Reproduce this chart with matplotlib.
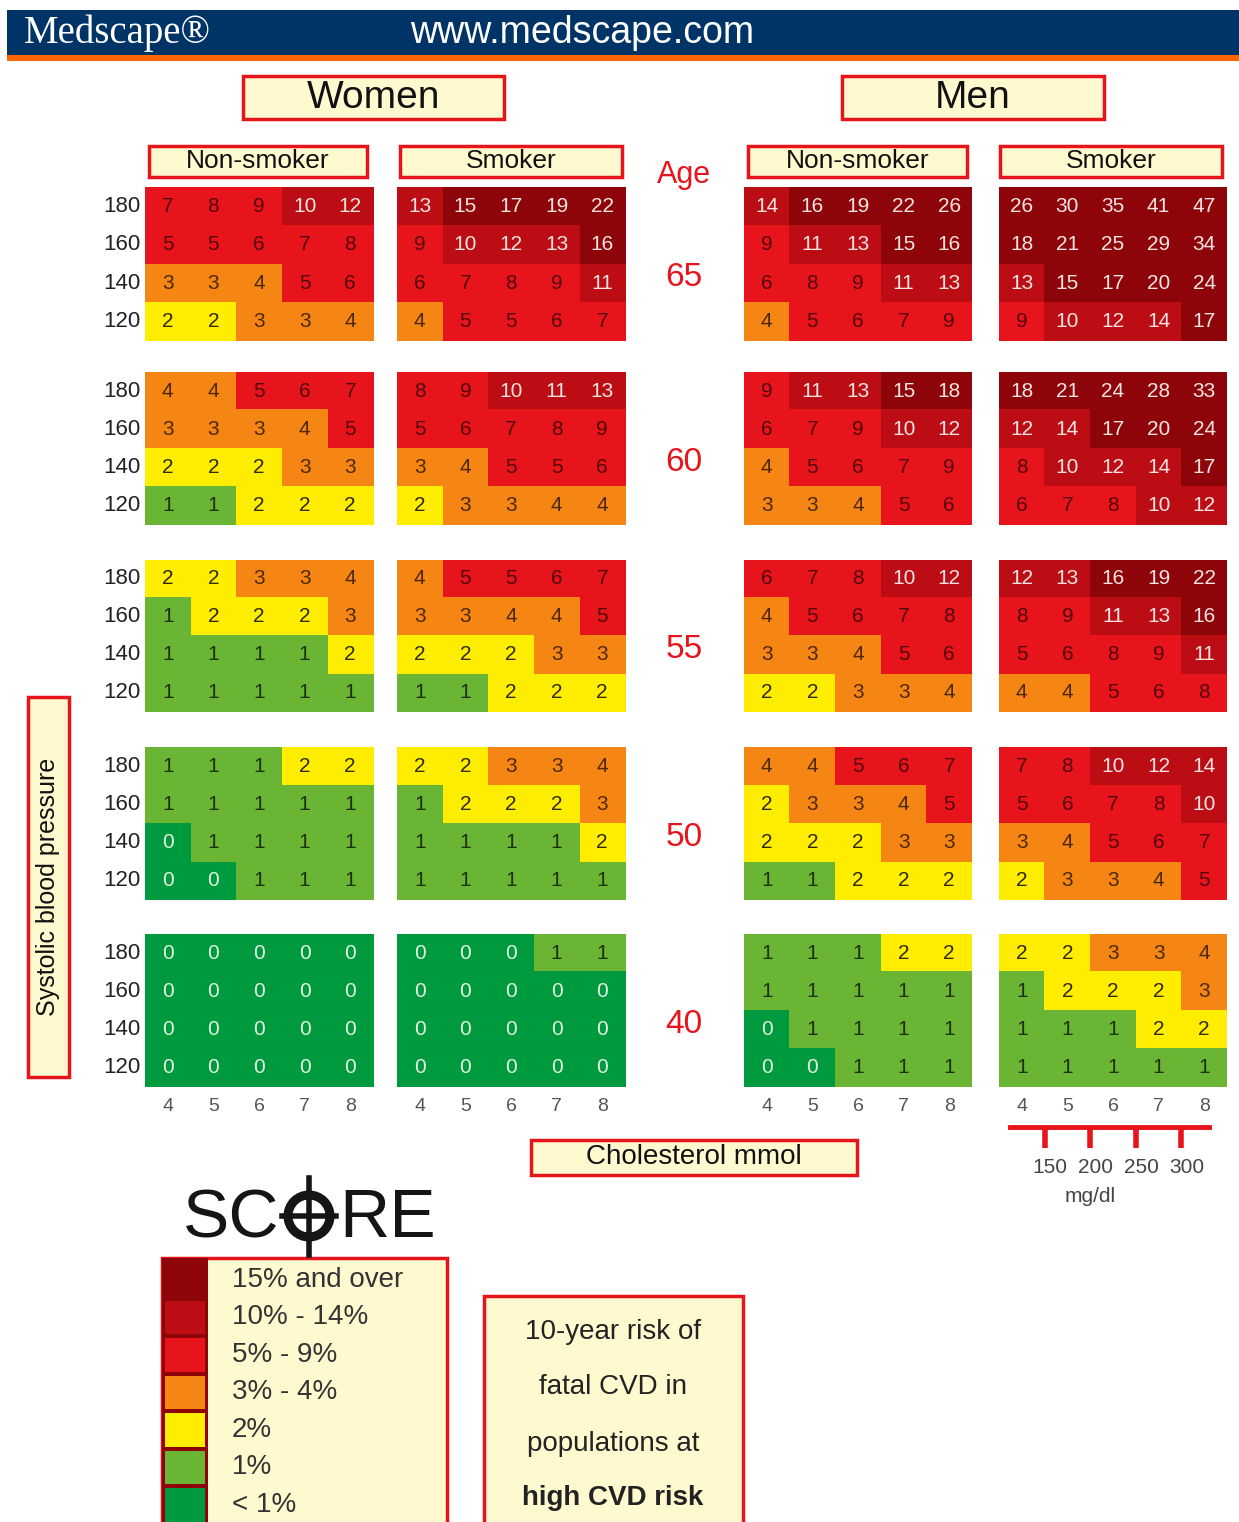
import numpy as np
import matplotlib.pyplot as plt
from matplotlib.colors import ListedColormap, BoundaryNorm
from matplotlib.patches import Rectangle, Circle

plt.rcParams['font.family'] = ['Liberation Sans', 'DejaVu Sans']

W, H = 1239, 1522

# chart data
ages = [65, 60, 55, 50, 40]
sbp = [180, 160, 140, 120]
chol = [4, 5, 6, 7, 8]
chol_mgdl = [150, 200, 250, 300]

women_nonsmoker = [
    [[7, 8, 9, 10, 12], [5, 5, 6, 7, 8], [3, 3, 4, 5, 6], [2, 2, 3, 3, 4]],
    [[4, 4, 5, 6, 7], [3, 3, 3, 4, 5], [2, 2, 2, 3, 3], [1, 1, 2, 2, 2]],
    [[2, 2, 3, 3, 4], [1, 2, 2, 2, 3], [1, 1, 1, 1, 2], [1, 1, 1, 1, 1]],
    [[1, 1, 1, 2, 2], [1, 1, 1, 1, 1], [0, 1, 1, 1, 1], [0, 0, 1, 1, 1]],
    [[0, 0, 0, 0, 0], [0, 0, 0, 0, 0], [0, 0, 0, 0, 0], [0, 0, 0, 0, 0]],
]
women_smoker = [
    [[13, 15, 17, 19, 22], [9, 10, 12, 13, 16], [6, 7, 8, 9, 11], [4, 5, 5, 6, 7]],
    [[8, 9, 10, 11, 13], [5, 6, 7, 8, 9], [3, 4, 5, 5, 6], [2, 3, 3, 4, 4]],
    [[4, 5, 5, 6, 7], [3, 3, 4, 4, 5], [2, 2, 2, 3, 3], [1, 1, 2, 2, 2]],
    [[2, 2, 3, 3, 4], [1, 2, 2, 2, 3], [1, 1, 1, 1, 2], [1, 1, 1, 1, 1]],
    [[0, 0, 0, 1, 1], [0, 0, 0, 0, 0], [0, 0, 0, 0, 0], [0, 0, 0, 0, 0]],
]
men_nonsmoker = [
    [[14, 16, 19, 22, 26], [9, 11, 13, 15, 16], [6, 8, 9, 11, 13], [4, 5, 6, 7, 9]],
    [[9, 11, 13, 15, 18], [6, 7, 9, 10, 12], [4, 5, 6, 7, 9], [3, 3, 4, 5, 6]],
    [[6, 7, 8, 10, 12], [4, 5, 6, 7, 8], [3, 3, 4, 5, 6], [2, 2, 3, 3, 4]],
    [[4, 4, 5, 6, 7], [2, 3, 3, 4, 5], [2, 2, 2, 3, 3], [1, 1, 2, 2, 2]],
    [[1, 1, 1, 2, 2], [1, 1, 1, 1, 1], [0, 1, 1, 1, 1], [0, 0, 1, 1, 1]],
]
men_smoker = [
    [[26, 30, 35, 41, 47], [18, 21, 25, 29, 34], [13, 15, 17, 20, 24], [9, 10, 12, 14, 17]],
    [[18, 21, 24, 28, 33], [12, 14, 17, 20, 24], [8, 10, 12, 14, 17], [6, 7, 8, 10, 12]],
    [[12, 13, 16, 19, 22], [8, 9, 11, 13, 16], [5, 6, 8, 9, 11], [4, 4, 5, 6, 8]],
    [[7, 8, 10, 12, 14], [5, 6, 7, 8, 10], [3, 4, 5, 6, 7], [2, 3, 3, 4, 5]],
    [[2, 2, 3, 3, 4], [1, 2, 2, 2, 3], [1, 1, 1, 2, 2], [1, 1, 1, 1, 1]],
]

risk_labels = ['15% and over', '10% - 14%', '5% - 9%', '3% - 4%', '2%', '1%', '< 1%']
risk_bounds = [-0.5, 0.5, 1.5, 2.5, 4.5, 9.5, 14.5, 100]
risk_colors = ['#009a3e', '#6ab533', '#ffed00', '#f58613', '#e8141b', '#bc0d14', '#8e0509']
digit_colors = ['#e2f3e2', '#1e300c', '#302b00', '#4e2806', '#520609', '#f6e4e4', '#f6e4e4']

RED = '#e8141b'
CREAM = '#fff9d0'

cmap = ListedColormap(risk_colors)
norm = BoundaryNorm(risk_bounds, cmap.N)

fig = plt.figure(figsize=(W / 100, H / 100), dpi=100)
bg = fig.add_axes([0, 0, 1, 1])
bg.set_xlim(0, W)
bg.set_ylim(H, 0)
bg.axis('off')


def px_axes(x0, y0, x1, y1):
    return fig.add_axes([x0 / W, 1 - y1 / H, (x1 - x0) / W, (y1 - y0) / H])


def box(x0, y0, x1, y1, text=None, size=18, lw=2.5, **kw):
    bg.add_patch(Rectangle((x0, y0), x1 - x0, y1 - y0, fc=CREAM, ec=RED, lw=lw))
    if text:
        bg.text((x0 + x1) / 2, (y0 + y1) / 2, text, ha='center', va='center',
                fontsize=size, color='#111111', **kw)


# header band
bg.add_patch(Rectangle((7, 10), W - 7, 45, fc='#003366', ec='none'))
bg.add_patch(Rectangle((7, 55), W - 7, 6, fc='#ff6600', ec='none'))
bg.text(24, 33, 'Medscape\u00ae', color='white', fontsize=28, va='center',
        family=['Liberation Serif', 'DejaVu Serif'])
bg.text(410, 33, 'www.medscape.com', color='white', fontsize=27, va='center')

# titles
box(243, 76, 504, 119, 'Women', size=28)
box(842, 76, 1104, 119, 'Men', size=28)
col_x = [(145, 373), (397, 625), (744, 972), (999, 1227)]
sub_titles = ['Non-smoker', 'Smoker', 'Non-smoker', 'Smoker']
sub_box = [(149, 367), (400, 622), (748, 967), (1000, 1222)]
for (a, b), t in zip(sub_box, sub_titles):
    box(a, 146, b, 177, t, size=19)

bg.text(684, 175, 'Age', color=RED, fontsize=22, ha='center', va='center')

row_y = [(187, 341), (372, 525), (560, 712), (747, 900), (934, 1087)]
groups = [women_nonsmoker, women_smoker, men_nonsmoker, men_smoker]

for k, age in enumerate(ages):
    y0, y1 = row_y[k]
    bg.text(684, (y0 + y1) / 2 + 14, str(age), color=RED, fontsize=24,
            ha='center', va='center')
    for g, (x0, x1) in enumerate(col_x):
        ax = px_axes(x0, y0, x1, y1)
        vals = np.array(groups[g][k])
        ax.imshow(vals, cmap=cmap, norm=norm, aspect='auto', interpolation='nearest',
                  extent=(-0.5, len(chol) - 0.5, len(sbp) - 0.5, -0.5))
        for i in range(len(sbp)):
            for j in range(len(chol)):
                lvl = np.digitize(vals[i, j], risk_bounds) - 1
                ax.text(j, i, str(vals[i, j]), ha='center', va='center',
                        fontsize=15, color=digit_colors[lvl])
        ax.set_xlim(-0.5, len(chol) - 0.5)
        ax.set_ylim(len(sbp) - 0.5, -0.5)
        ax.set_xticks([])
        ax.set_yticks([])
        for s in ax.spines.values():
            s.set_visible(False)
        if g == 0:
            for i, p in enumerate(sbp):
                ax.text(-0.6, i, str(p), ha='right', va='center', fontsize=16,
                        color='#222222')
        if k == len(ages) - 1:
            for j, c in enumerate(chol):
                ax.text(j, 4.0, str(c), ha='center', va='center', fontsize=14,
                        color='#555555')
            if g == 3:
                # mg/dl scale under men smoker panel
                ty = 4.55
                ax.plot([-0.25, 4.1], [ty, ty], color=RED, lw=3.5, clip_on=False)
                for m, mg in enumerate(chol_mgdl):
                    ax.plot([m + 0.5, m + 0.5], [ty, ty + 0.55], color=RED, lw=4,
                            clip_on=False, solid_capstyle='butt')
                    ax.text(m + 0.62, ty + 1.05, str(mg), ha='center', va='center',
                            fontsize=15, color='#444444')
                ax.text(1.5, ty + 1.8, 'mg/dl', ha='center', va='center',
                        fontsize=15, color='#444444')

# axis title boxes
box(531, 1140, 857, 1175, 'Cholesterol mmol', size=20)
bg.add_patch(Rectangle((28, 697), 41, 380, fc=CREAM, ec=RED, lw=2.5))
bg.text(48, 887, 'Systolic blood pressure', rotation=90, ha='center', va='center',
        fontsize=18, color='#111111')

# SCORE logo
bg.text(279, 1219, 'SC', ha='right', va='center', fontsize=50, color='#151515')
bg.text(339, 1219, 'RE', ha='left', va='center', fontsize=50, color='#151515')
bg.add_patch(Circle((309, 1216), 21, fc='none', ec='#151515', lw=6.5))
bg.plot([309, 309], [1178, 1255], color='#151515', lw=4)
bg.plot([282, 336], [1216, 1216], color='#151515', lw=4)

# legend
bg.add_patch(Rectangle((162, 1258), 285, 270, fc=CREAM, ec=RED, lw=2.5))
bg.add_patch(Rectangle((162, 1258), 46, 270, fc='#8e0509', ec='none'))
step = 37.5
for i, lab in enumerate(risk_labels):
    col = risk_colors[len(risk_colors) - 1 - i]
    top = 1261 + i * step
    bg.add_patch(Rectangle((165, top + 2), 40, step - 4, fc=col, ec='none'))
    bg.text(232, top + step / 2, lab, ha='left', va='center', fontsize=20,
            color='#333333')

# description box
bg.add_patch(Rectangle((484, 1296), 259, 240, fc=CREAM, ec=RED, lw=2.5))
desc = ['10-year risk of', 'fatal CVD in', 'populations at', 'high CVD risk']
desc_y = [1332, 1387, 1444, 1498]
for t, yy in zip(desc, desc_y):
    bg.text(613, yy, t, ha='center', va='center', fontsize=20, color='#222222',
            weight='bold' if t.startswith('high') else 'normal')

fig.savefig('out.png', dpi=100)
